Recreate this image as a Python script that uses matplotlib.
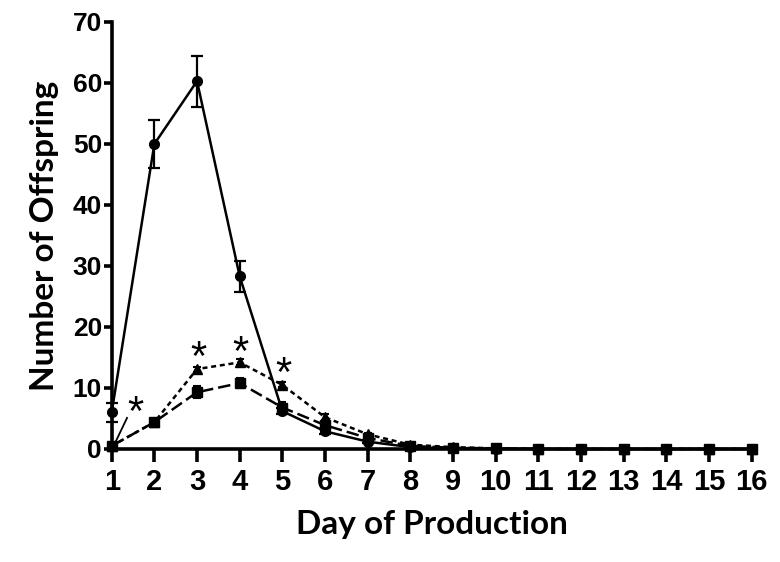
import matplotlib.pyplot as plt

plt.rcParams['font.family'] = ['Liberation Sans', 'DejaVu Sans']
plt.rcParams['font.weight'] = 'bold'

days = list(range(1, 17))

# circles, solid line
circ = [6.0, 50.0, 60.3, 28.3, 6.2, 2.9, 1.2, 0.3, 0.1, 0, 0, 0, 0, 0, 0, 0]
circ_err = [1.5, 4.0, 4.2, 2.5, 0.5, 0.4, 0.2, 0.1, 0, 0, 0, 0, 0, 0, 0, 0]
# triangles, dotted line
tri = [0.5, 4.4, 13.1, 14.2, 10.5, 5.2, 2.4, 0.7, 0.3, 0.1, 0, 0, 0, 0, 0, 0]
tri_err = [0.1, 0.3, 0.4, 0.5, 0.4, 0.5, 0.3, 0.1, 0, 0, 0, 0, 0, 0, 0, 0]
# squares, dashed line
sq = [0.5, 4.4, 9.3, 10.8, 6.8, 3.9, 1.8, 0.5, 0.2, 0.1, 0, 0, 0, 0, 0, 0]
sq_err = [0.1, 0.4, 1.0, 0.8, 0.9, 0.4, 0.3, 0.1, 0, 0, 0, 0, 0, 0, 0, 0]

star_x = [1.55, 3.03, 4.01, 5.02]
star_y = [6.5, 15.5, 16.3, 12.9]

fig = plt.figure(figsize=(7.8, 5.62), dpi=100)
ax = fig.add_axes([0.1432, 0.2011, 0.8205, 0.7598])

ax.errorbar(days, tri, yerr=tri_err, color='black', lw=1.8, ls=(0, (2, 1.5)),
            marker='^', ms=7, capsize=3, elinewidth=1.5, capthick=1.5, clip_on=False, zorder=3)
ax.errorbar(days, sq, yerr=sq_err, color='black', lw=1.8, ls=(0, (5, 2)),
            marker='s', ms=7, capsize=3, elinewidth=1.5, capthick=1.5, clip_on=False, zorder=3)
ax.errorbar(days, circ, yerr=circ_err, color='black', lw=1.8, ls='-',
            marker='o', ms=7, capsize=4, elinewidth=1.6, capthick=1.6, clip_on=False, zorder=4)

# small leader line to the day-1 asterisk
ax.plot([1.08, 1.36], [1.0, 5.1], color='black', lw=1.3)
for x, y in zip(star_x, star_y):
    ax.text(x, y - 0.8, '*', fontsize=30, fontweight='normal', ha='center', va='center',
            family='Liberation Sans')

ax.set_xlim(1, 16)
ax.set_ylim(0, 70)
ax.set_xticks(days)
ax.set_yticks(range(0, 71, 10))
ax.spines['top'].set_visible(False)
ax.spines['right'].set_visible(False)
for s in ('left', 'bottom'):
    ax.spines[s].set_linewidth(2.6)
ax.tick_params(axis='y', width=2.6, length=6, labelsize=19, pad=1)
ax.tick_params(axis='x', width=2.6, length=9, labelsize=21, pad=5)

ax.set_xlabel('Day of Production', fontsize=24, fontweight='bold', family='Lato', labelpad=10)
ax.set_ylabel('Number of Offspring', fontsize=24, fontweight='bold', family='Lato', labelpad=10)

fig.savefig('out.png', dpi=100)
